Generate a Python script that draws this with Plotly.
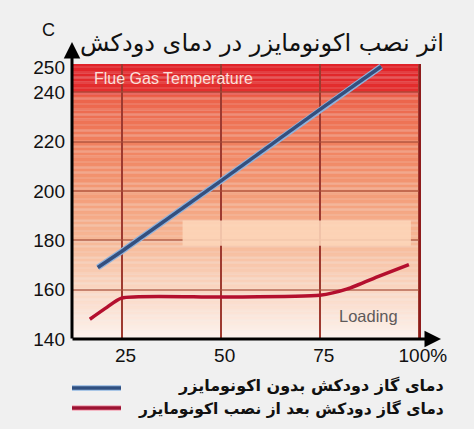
import plotly.graph_objects as go

# Load (%) vs. flue gas temperature (C)
load_without = [19, 25, 50, 75, 90.5]
temp_without = [169, 175.5, 204, 233, 250.5]

load_with = [17, 21, 25, 50, 75, 82, 90, 97.5]
temp_with = [148, 152.5, 156.6, 157, 157.7, 160.3, 165.5, 170.2]

x_ticks = [25, 50, 75, 100]
x_labels = ["25", "50", "75", "100%"]
y_ticks = [140, 160, 180, 200, 220, 240, 250]
y_labels = ["140", "160", "180", "200", "220", "240", "250"]

title_text = "اثر نصب اکونومایزر در دمای دودکش"
name_without = "دمای گاز دودکش بدون اکونومایزر"
name_with = "دمای گاز دودکش بعد از نصب اکونومایزر"

X_RANGE = [12.5, 100.3]
Y_RANGE = [140, 251.5]

W, H = 474, 429
ML, MR, MT, MB = 72, 54, 64, 90
PW, PH = W - ML - MR, H - MT - MB


def px(xp, yp):
    """Convert page pixel position to paper coordinates."""
    return (xp - ML) / PW, (H - MB - yp) / PH


# vertical colour ramp of the plot background (temperature -> rgb)
ramp = [
    (140.0, (253, 243, 238)),
    (160.0, (250, 214, 194)),
    (180.0, (246, 184, 150)),
    (200.0, (243, 154, 118)),
    (220.0, (240, 128, 94)),
    (238.5, (236, 98, 74)),
    (240.0, (228, 48, 46)),
    (251.5, (224, 34, 40)),
]


def ramp_color(v):
    for (a, ca), (b, cb) in zip(ramp[:-1], ramp[1:]):
        if a <= v <= b:
            t = (v - a) / (b - a)
            c = [round(ca[i] + (cb[i] - ca[i]) * t) for i in range(3)]
            return f"rgb({c[0]},{c[1]},{c[2]})"
    return "rgb(224,34,40)"


shapes = []
step = 0.5
v = Y_RANGE[0]
while v < Y_RANGE[1]:
    shapes.append(dict(type="rect", xref="x", yref="y", layer="below",
                       x0=X_RANGE[0], x1=X_RANGE[1], y0=v, y1=min(v + step + 0.05, Y_RANGE[1]),
                       line=dict(width=0), fillcolor=ramp_color(v + step / 2)))
    v += step

# pale patch across the middle of the chart
shapes.append(dict(type="rect", xref="x", yref="y", layer="above",
                   x0=40.4, x1=98, y0=177.8, y1=188,
                   line=dict(width=0), fillcolor="rgba(253,214,186,0.88)"))
# dark right border of the plot area
shapes.append(dict(type="line", xref="paper", yref="paper", x0=1, x1=1, y0=0, y1=1,
                   line=dict(color="#8e1c1c", width=2)))

# legend samples
lx0, ly1 = px(72, 388)
lx1, _ = px(121, 388)
_, ly2 = px(72, 408)
shapes.append(dict(type="line", xref="paper", yref="paper", x0=lx0, x1=lx1, y0=ly1, y1=ly1,
                   line=dict(color="#a9c6e6", width=6)))
shapes.append(dict(type="line", xref="paper", yref="paper", x0=lx0, x1=lx1, y0=ly1, y1=ly1,
                   line=dict(color="#2f4f80", width=3.5)))
shapes.append(dict(type="line", xref="paper", yref="paper", x0=lx0, x1=lx1, y0=ly2, y1=ly2,
                   line=dict(color="#f3b8c4", width=6)))
shapes.append(dict(type="line", xref="paper", yref="paper", x0=lx0, x1=lx1, y0=ly2, y1=ly2,
                   line=dict(color="#9c1232", width=3.5)))

fig = go.Figure()
fig.add_trace(go.Scatter(x=load_without, y=temp_without, mode="lines",
                         line=dict(color="#8fb2dc", width=6), hoverinfo="skip",
                         showlegend=False))
fig.add_trace(go.Scatter(x=load_without, y=temp_without, mode="lines", name=name_without,
                         line=dict(color="#344f7e", width=3.5), showlegend=False))
fig.add_trace(go.Scatter(x=load_with, y=temp_with, mode="lines", name=name_with,
                         line=dict(color="#b40f2e", width=3.5, shape="spline", smoothing=0.6),
                         showlegend=False))

persian = "DejaVu Sans"
annotations = []
tx, ty = px(446, 43)
annotations.append(dict(x=tx, y=ty, xref="paper", yref="paper", text=title_text,
                        showarrow=False, xanchor="right", yanchor="middle",
                        font=dict(family=persian, size=24, color="#111")))
cx, cy = px(48, 30)
annotations.append(dict(x=cx, y=cy, xref="paper", yref="paper", text="C",
                        showarrow=False, xanchor="center", yanchor="middle",
                        font=dict(family="Liberation Sans", size=18, color="#111")))
fx, fy = px(92, 78)
annotations.append(dict(x=fx, y=fy, xref="paper", yref="paper", text="Flue Gas Temperature",
                        showarrow=False, xanchor="left", yanchor="middle",
                        font=dict(family="Liberation Sans", size=16, color="#fbe0dc")))
gx, gy = px(368, 316)
annotations.append(dict(x=gx, y=gy, xref="paper", yref="paper", text="Loading",
                        showarrow=False, xanchor="center", yanchor="middle",
                        font=dict(family="Liberation Sans", size=16.5, color="#5e5a5a")))
rx1, ry1 = px(446, 385)
annotations.append(dict(x=rx1, y=ry1, xref="paper", yref="paper", text="<b>%s</b>" % name_without,
                        showarrow=False, xanchor="right", yanchor="middle",
                        font=dict(family=persian, size=16, color="#111")))
rx2, ry2 = px(446, 408)
annotations.append(dict(x=rx2, y=ry2, xref="paper", yref="paper", text="<b>%s</b>" % name_with,
                        showarrow=False, xanchor="right", yanchor="middle",
                        font=dict(family=persian, size=15.5, color="#111")))
# axis arrows (tip position, tail given as pixel offset)
ahx, ahy = px(72, 42)
annotations.append(dict(x=ahx, y=ahy, xref="paper", yref="paper", ax=0, ay=298,
                        axref="pixel", ayref="pixel", showarrow=True, text="",
                        arrowhead=2, arrowsize=1.1, arrowwidth=3, arrowcolor="#000"))
bhx, bhy = px(441, 339)
annotations.append(dict(x=bhx, y=bhy, xref="paper", yref="paper", ax=-370, ay=0,
                        axref="pixel", ayref="pixel", showarrow=True, text="",
                        arrowhead=2, arrowsize=1.1, arrowwidth=3, arrowcolor="#000"))

fig.update_layout(
    width=W, height=H,
    margin=dict(l=ML, r=MR, t=MT, b=MB),
    paper_bgcolor="#f0f0f0",
    plot_bgcolor="#f0f0f0",
    shapes=shapes,
    annotations=annotations,
    showlegend=False,
    xaxis=dict(range=X_RANGE, tickvals=x_ticks, ticktext=x_labels, showgrid=True,
               gridcolor="#9e3a30", gridwidth=2, zeroline=False, showline=False,
               ticks="", ticklabelshift=4, ticklabelstandoff=3,
               tickfont=dict(family="Liberation Sans", size=19, color="#111"),
               fixedrange=True),
    yaxis=dict(range=Y_RANGE, tickvals=[160, 180, 200, 220, 240], showgrid=True,
               gridcolor="rgba(165,75,55,0.6)", gridwidth=1.5, zeroline=False,
               showline=False, showticklabels=False, ticks="", fixedrange=True),
    yaxis2=dict(range=Y_RANGE, overlaying="y", side="left", tickvals=y_ticks,
                ticktext=y_labels, showgrid=False, zeroline=False, ticks="",
                ticklabelstandoff=6,
                tickfont=dict(family="Liberation Sans", size=19, color="#111"),
                fixedrange=True),
)
# invisible carrier for the labelled temperature axis
fig.add_trace(go.Scatter(x=[X_RANGE[0]], y=[Y_RANGE[0]], yaxis="y2", mode="markers",
                         marker=dict(opacity=0), hoverinfo="skip", showlegend=False))

fig.write_html("out.html", config=dict(displayModeBar=False))
